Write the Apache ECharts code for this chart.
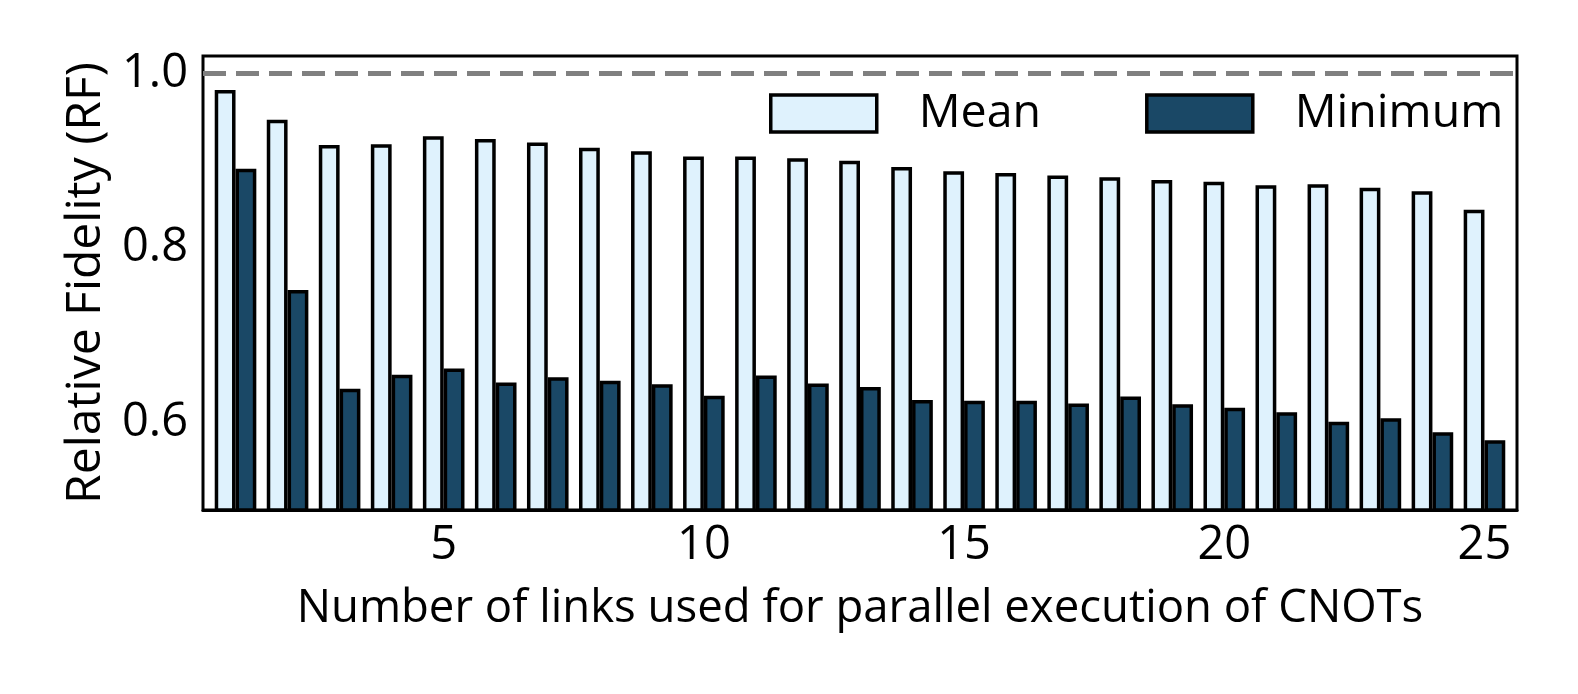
<!DOCTYPE html>
<html>
<head>
<meta charset="utf-8">
<script src="https://cdn.jsdelivr.net/npm/echarts@6/dist/echarts.min.js"></script>
<style>
html,body{margin:0;padding:0;background:#fff;}
#chart{width:1578px;height:694px;}
</style>
</head>
<body>
<div id="chart"></div>
<script>
const categories = [1,2,3,4,5,6,7,8,9,10,11,12,13,14,15,16,17,18,19,20,21,22,23,24,25];
const meanValues = [0.981,0.947,0.918,0.919,0.928,0.925,0.921,0.915,0.911,0.905,0.905,0.903,0.900,0.893,0.888,0.886,0.883,0.881,0.878,0.876,0.872,0.873,0.869,0.865,0.844];
const minValues = [0.891,0.752,0.639,0.655,0.662,0.646,0.652,0.648,0.644,0.631,0.654,0.645,0.641,0.626,0.625,0.625,0.622,0.630,0.621,0.617,0.612,0.601,0.605,0.589,0.580];
const xTickLabels = [5,10,15,20,25];
const yTickLabels = [0.6,0.8,1.0];
const referenceLevel = 1.0;
const seriesNames = ['Mean','Minimum'];

const FONT = 'Open Sans';
const chart = echarts.init(document.getElementById('chart'), null, {renderer:'canvas'});
chart.setOption({
  animation: false,
  backgroundColor: '#ffffff',
  textStyle: {fontFamily: FONT, color: '#000'},
  grid: {left: 203, top: 56, width: 1314, height: 454, show: true, borderColor: '#000', borderWidth: 3, backgroundColor: 'transparent'},
  legend: {
    data: seriesNames,
    left: 769, top: 90,
    padding: 0,
    icon: 'rect',
    itemWidth: 106, itemHeight: 37,
    itemGap: 104,
    itemStyle: {borderWidth: 3.5, borderColor: '#000'},
    textStyle: {fontFamily: FONT, fontSize: 46.5, color: '#000', padding: [0,0,0,37]}
  },
  xAxis: {
    type: 'value', min: 0.375, max: 25.625,
    z: 10,
    axisLine: {show: true, onZero: false, lineStyle: {color: '#000', width: 3}},
    axisTick: {show: false},
    splitLine: {show: false},
    axisLabel: {customValues: xTickLabels, fontFamily: FONT, fontSize: 47, color: '#000', margin: 12},
    name: 'Number of links used for parallel execution of CNOTs',
    nameLocation: 'middle', nameGap: 76,
    nameTextStyle: {fontFamily: FONT, fontSize: 45.5, color: '#000'}
  },
  yAxis: {
    type: 'value', min: 0.5, max: 1.02,
    axisLine: {show: false},
    axisTick: {show: false},
    splitLine: {show: false},
    axisLabel: {customValues: yTickLabels, formatter: v => v.toFixed(1), fontFamily: FONT, fontSize: 47, color: '#000', margin: 15, padding: [11,0,0,0]},
    name: 'Relative Fidelity (RF)',
    nameLocation: 'middle', nameGap: 93,
    nameTextStyle: {fontFamily: FONT, fontSize: 48, color: '#000'}
  },
  series: [
    {
      name: seriesNames[0], type: 'bar',
      data: categories.map((c, i) => [c, meanValues[i]]),
      barWidth: 20.8, barGap: '0%',
      clip: true,
      itemStyle: {color: '#dff2fd', borderColor: '#000', borderWidth: 3.5},
      markLine: {
        silent: true, symbol: ['none','none'],
        label: {show: false},
        lineStyle: {color: '#808080', width: 5, type: [23,10]},
        data: [{yAxis: referenceLevel}]
      }
    },
    {
      name: seriesNames[1], type: 'bar',
      data: categories.map((c, i) => [c, minValues[i]]),
      barWidth: 20.8, barGap: '0%',
      clip: true,
      itemStyle: {color: '#1a4866', borderColor: '#000', borderWidth: 3.5}
    }
  ]
});
</script>
</body>
</html>
